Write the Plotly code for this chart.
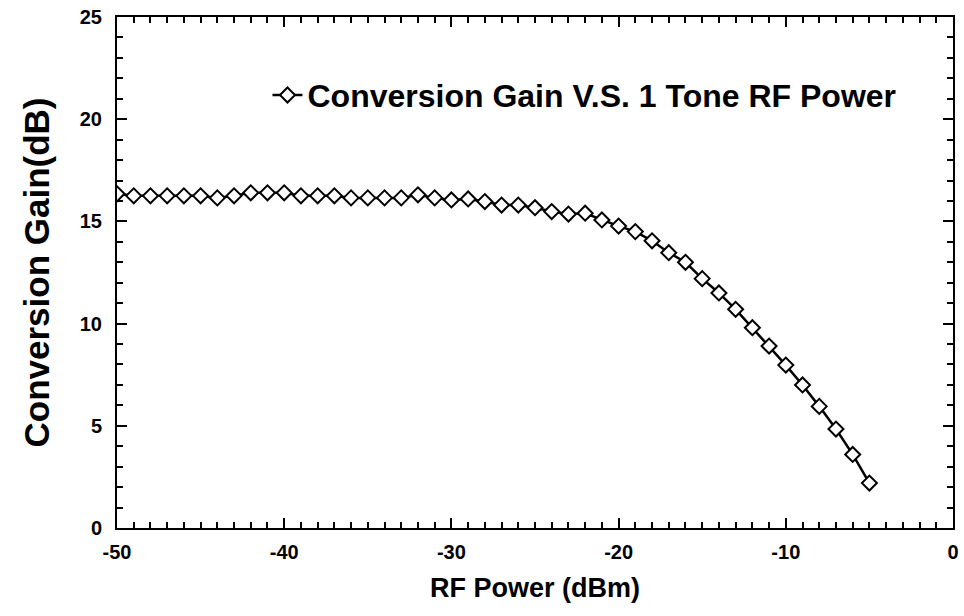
import plotly.graph_objects as go

rf_power_dbm = list(range(-50, -4))
conversion_gain_db = [
    16.35, 16.25, 16.25, 16.25, 16.25, 16.25, 16.15, 16.25, 16.4, 16.4,
    16.4, 16.25, 16.25, 16.25, 16.15, 16.15, 16.15, 16.15, 16.3, 16.15,
    16.05, 16.1, 15.97, 15.8, 15.8, 15.67, 15.48, 15.36, 15.4, 15.07,
    14.77, 14.5, 14.05, 13.47, 13.0, 12.2, 11.5, 10.7, 9.8, 8.9,
    7.97, 7.0, 5.95, 4.84, 3.6, 2.2,
]
x_tick_values = [-50, -40, -30, -20, -10, 0]
x_tick_labels = ["-50", "-40", "-30", "-20", "-10", "0"]
y_tick_values = [0, 5, 10, 15, 20, 25]
y_tick_labels = ["0", "5", "10", "15", "20", "25"]
series_name = "Conversion Gain V.S. 1 Tone RF Power"
x_title = "RF Power (dBm)"
y_title = "Conversion Gain(dB)"

FONT = "Liberation Sans, Arial, sans-serif"

fig = go.Figure()
fig.add_trace(go.Scatter(
    x=rf_power_dbm, y=conversion_gain_db, mode="lines+markers", name=series_name,
    line=dict(color="black", width=2.5),
    marker=dict(symbol="diamond", size=11.5, color="white",
                line=dict(color="black", width=2)),
))

axis_common = dict(
    showline=True, linewidth=2, linecolor="black", mirror="ticks",
    ticks="inside", ticklen=10, tickwidth=2, tickcolor="black",
    showgrid=False, zeroline=False, tickmode="array",
    tickfont=dict(family=FONT, size=20, color="black", weight="bold"),
    minor=dict(ticks="inside", ticklen=6, tickwidth=2, tickcolor="black", dtick=1, tick0=0, showgrid=False),
)

fig.update_xaxes(range=[-50, 0], tickvals=x_tick_values, ticktext=x_tick_labels, ticklabelstandoff=5,
                 title=dict(text=x_title, font=dict(family=FONT, size=27, color="black", weight="bold"), standoff=16),
                 **axis_common)
fig.update_yaxes(range=[0, 25], tickvals=y_tick_values, ticktext=y_tick_labels, ticklabelstandoff=9,
                 title=dict(text=y_title, font=dict(family=FONT, size=35, color="black", weight="bold"), standoff=20),
                 **axis_common)

fig.update_layout(
    width=964, height=616,
    margin=dict(l=117, r=11, t=17, b=88, autoexpand=False),
    plot_bgcolor="white", paper_bgcolor="white",
    showlegend=True,
    legend=dict(x=0.18, y=0.847, xanchor="left", yanchor="middle",
                bgcolor="rgba(0,0,0,0)", borderwidth=0,
                font=dict(family=FONT, size=32, color="black", weight="bold")),
)

fig.write_html("out.html")
